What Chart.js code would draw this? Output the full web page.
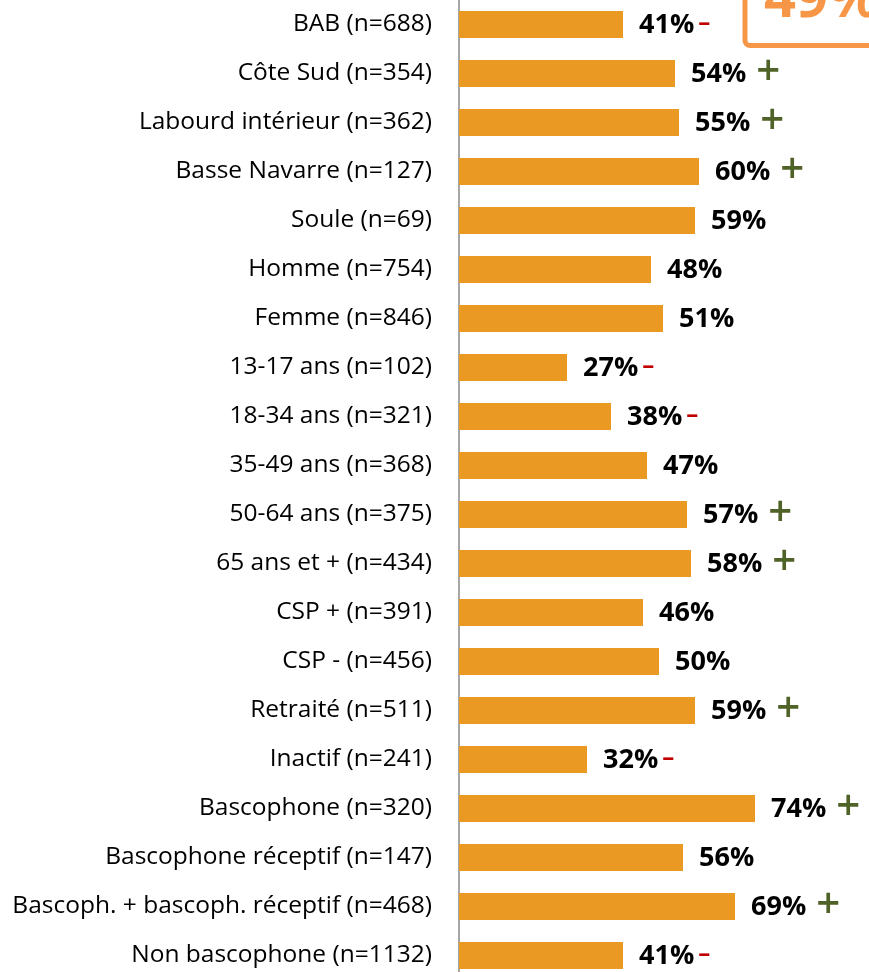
<!DOCTYPE html>
<html>
<head>
<meta charset="utf-8">
<script src="https://cdn.jsdelivr.net/npm/chart.js@4.4.1/dist/chart.umd.min.js"></script>
<style>
  html, body { margin: 0; padding: 0; background: #fff; overflow: hidden; }
  #wrap { position: absolute; left: 0; top: 0; width: 869px; height: 980px; }
</style>
</head>
<body>
<div id="wrap"><canvas id="chart" width="869" height="980"></canvas></div>
<script>
const categories = [
    'BAB (n=688)', 'Côte Sud (n=354)', 'Labourd intérieur (n=362)', 'Basse Navarre (n=127)',
    'Soule (n=69)', 'Homme (n=754)', 'Femme (n=846)', '13-17 ans (n=102)', '18-34 ans (n=321)',
    '35-49 ans (n=368)', '50-64 ans (n=375)', '65 ans et + (n=434)', 'CSP + (n=391)',
    'CSP - (n=456)', 'Retraité (n=511)', 'Inactif (n=241)', 'Bascophone (n=320)',
    'Bascophone réceptif (n=147)', 'Bascoph. + bascoph. réceptif (n=468)', 'Non bascophone (n=1132)'
];
const values = [41, 54, 55, 60, 59, 48, 51, 27, 38, 47, 57, 58, 46, 50, 59, 32, 74, 56, 69, 41];
// significance markers next to each value
const signs = ['-', '+', '+', '+', '', '', '', '-', '-', '', '+', '+', '', '', '+', '-', '+', '', '+', '-'];
const totalLabel = '49%';

const FONT = '"Open Sans", sans-serif';

// labels "41%" + sign at the end of each bar
const valueLabels = {
    id: 'valueLabels',
    afterDatasetsDraw(chart) {
        const { ctx } = chart;
        const meta = chart.getDatasetMeta(0);
        ctx.save();
        ctx.textBaseline = 'middle';
        ctx.textAlign = 'left';
        meta.data.forEach((bar, i) => {
            const txt = values[i] + '%';
            const x = bar.x + 16;
            ctx.font = 'bold 27px ' + FONT;
            ctx.fillStyle = '#000';
            ctx.fillText(txt, x, bar.y + 1);
            const w = ctx.measureText(txt).width;
            if (signs[i] === '+') {
                ctx.font = '600 42px ' + FONT;
                ctx.fillStyle = '#4F6228';
                ctx.fillText('+', x + w + 10, bar.y);
            } else if (signs[i] === '-') {
                ctx.font = 'bold 24px ' + FONT;
                ctx.fillStyle = '#C00000';
                ctx.fillText('\u2013', x + w + 4, bar.y - 1);
            }
        });
        ctx.restore();
    }
};

// orange box with the overall score, cut off at the top right
const totalBox = {
    id: 'totalBox',
    afterDraw(chart) {
        const { ctx } = chart;
        ctx.save();
        ctx.strokeStyle = '#F79646';
        ctx.lineWidth = 5;
        ctx.beginPath();
        ctx.roundRect(745, -60, 200, 105.5, 5);
        ctx.stroke();
        ctx.fillStyle = '#F79646';
        ctx.font = 'bold 56px ' + FONT;
        ctx.textAlign = 'left';
        ctx.textBaseline = 'alphabetic';
        ctx.fillText(totalLabel, 764, 17);
        ctx.restore();
    }
};

new Chart(document.getElementById('chart').getContext('2d'), {
    type: 'bar',
    data: {
        labels: categories,
        datasets: [{
            data: values,
            backgroundColor: '#EA9A22',
            borderWidth: 0,
            categoryPercentage: 1,
            barPercentage: 0.55
        }]
    },
    plugins: [valueLabels, totalBox],
    options: {
        indexAxis: 'y',
        responsive: false,
        animation: false,
        layout: { padding: { left: 0, right: 10, top: 0, bottom: 0 } },
        plugins: { legend: { display: false }, tooltip: { enabled: false } },
        scales: {
            x: { display: false, min: 0, max: 100 },
            y: {
                afterFit: s => { s.width = 459; s.paddingTop = 0; s.paddingBottom = 0; },
                grid: { display: false, drawTicks: false },
                border: { display: true, color: '#A6A6A6', width: 2 },
                ticks: { autoSkip: false, padding: 27, color: '#000', font: { family: FONT, size: 24.5 } }
            }
        }
    }
});
</script>
</body>
</html>
